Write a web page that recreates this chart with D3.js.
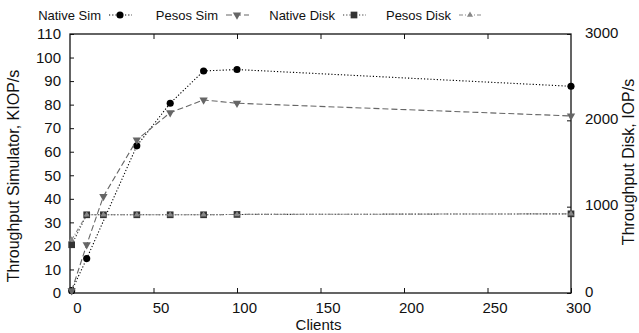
<!DOCTYPE html>
<html>
<head>
<meta charset="utf-8">
<script src="https://cdn.jsdelivr.net/npm/d3@7"></script>
<style>
  body { margin: 0; background: #fff; }
  text { font-family: "Liberation Sans", Arial, sans-serif; fill: #111; }
</style>
</head>
<body>
<div id="chart"></div>
<script>
// data
const clients = [1, 10, 20, 40, 60, 80, 100, 300];
const nativeSimX = [1, 10, 40, 60, 80, 100, 300];
const nativeSim = [1, 14.6, 62.5, 80.6, 94.3, 94.9, 87.8];
const pesosSim = [1, 20.5, 41, 65, 76.6, 82, 80.6, 75.2];
const nativeDisk = [559, 906, 906, 906, 906, 906, 910, 917];
const pesosDisk = [617, 906, 906, 906, 906, 906, 910, 917];
const xTicks = [0, 50, 100, 150, 200, 250, 300];
const yTicks = [0, 10, 20, 30, 40, 50, 60, 70, 80, 90, 100, 110];
const y2Ticks = [0, 1000, 2000, 3000];

const W = 639, H = 333;
const margin = {top: 34, right: 68, bottom: 40, left: 70};
const width = W - margin.left - margin.right,
      height = H - margin.top - margin.bottom;

const svg = d3.select("#chart").append("svg")
    .attr("width", W)
    .attr("height", H);
const g = svg.append("g")
    .attr("transform", `translate(${margin.left},${margin.top})`);

const x = d3.scaleLinear().domain([0, 300]).range([0, width]);
const y = d3.scaleLinear().domain([0, 110]).range([height, 0]);
const y2 = d3.scaleLinear().domain([0, 3000]).range([height, 0]);

// axes: gnuplot style, ticks pointing inward
const styleAxis = sel => {
  sel.select(".domain").remove();
  sel.selectAll(".tick line").attr("stroke", "#111");
  sel.selectAll(".tick text").style("font-size", "15px");
};
g.append("g")
  .attr("transform", `translate(0,${height})`)
  .call(d3.axisBottom(x).tickValues(xTicks).tickSize(-5).tickPadding(9))
  .call(styleAxis)
  .call(a => a.selectAll(".tick text").attr("dx", 7));
g.append("g")
  .call(d3.axisTop(x).tickValues(xTicks.slice(1, -1)).tickSize(-5).tickFormat(""))
  .call(styleAxis);
g.append("g")
  .call(d3.axisLeft(y).tickValues(yTicks).tickSize(-4).tickPadding(9))
  .call(styleAxis);
g.append("g")
  .attr("transform", `translate(${width},0)`)
  .call(d3.axisRight(y2).tickValues(y2Ticks).tickSize(-4).tickPadding(14).tickFormat(d3.format("d")))
  .call(styleAxis)
  .call(a => a.selectAll(".tick text").attr("dy", "0.2em"));

// frame
g.append("rect")
  .attr("width", width).attr("height", height)
  .attr("fill", "none").attr("stroke", "#111").attr("stroke-width", 1.3);

// labels
svg.append("text")
  .attr("x", margin.left + width / 2 - 2)
  .attr("y", H - 3)
  .attr("text-anchor", "middle")
  .style("font-size", "15px")
  .text("Clients");
svg.append("text")
  .attr("transform", `translate(19,176) rotate(-90)`)
  .attr("text-anchor", "middle")
  .style("font-size", "16px")
  .text("Throughput Simulator, KIOP/s");
svg.append("text")
  .attr("transform", `translate(634,162) rotate(-90)`)
  .attr("text-anchor", "middle")
  .style("font-size", "16px")
  .text("Throughput Disk, IOP/s");

const series = [
  {name: "Native Sim", xs: nativeSimX, ys: nativeSim, sc: y, color: "#000", dash: "1.2,2", marker: "circle", size: 40},
  {name: "Pesos Sim", xs: clients, ys: pesosSim, sc: y, color: "#666", dash: "6,3", marker: "down", size: 30},
  {name: "Native Disk", xs: clients, ys: nativeDisk, sc: y2, color: "#333", dash: "1.2,2", marker: "square", size: 45},
  {name: "Pesos Disk", xs: clients, ys: pesosDisk, sc: y2, color: "#888", dash: "4,2,1,2", marker: "up", size: 16}
];

const symbolFor = m => ({
  circle: d3.symbolCircle,
  square: d3.symbolSquare,
  up: d3.symbolTriangle,
  down: d3.symbolTriangle
})[m];

series.forEach(s => {
  const pts = s.xs.map((c, i) => [x(c), s.sc(s.ys[i])]);
  g.append("path")
    .attr("d", d3.line()(pts))
    .attr("fill", "none")
    .attr("stroke", s.color)
    .attr("stroke-width", 1.1)
    .attr("stroke-dasharray", s.dash);
  g.selectAll(null)
    .data(pts)
    .join("path")
      .attr("d", d3.symbol().type(symbolFor(s.marker)).size(s.size))
      .attr("transform", d => `translate(${d[0]},${d[1]})${s.marker === "down" ? " rotate(180)" : ""}`)
      .attr("fill", s.color);
});

// legend across the top
const legendPos = [101, 218, 335, 451];
const legend = svg.append("g").attr("class", "legend");
series.forEach((s, i) => {
  const lx = legendPos[i];
  legend.append("text")
    .attr("x", lx)
    .attr("y", 20)
    .attr("text-anchor", "end")
    .style("font-size", "13px")
    .text(s.name);
  legend.append("line")
    .attr("x1", lx + 8).attr("x2", lx + 31)
    .attr("y1", 15).attr("y2", 15)
    .attr("stroke", s.color)
    .attr("stroke-width", 1.1)
    .attr("stroke-dasharray", s.dash);
  legend.append("path")
    .attr("d", d3.symbol().type(symbolFor(s.marker)).size(s.size))
    .attr("transform", `translate(${lx + 19},15)${s.marker === "down" ? " rotate(180)" : ""}`)
    .attr("fill", s.color);
});
</script>
</body>
</html>
